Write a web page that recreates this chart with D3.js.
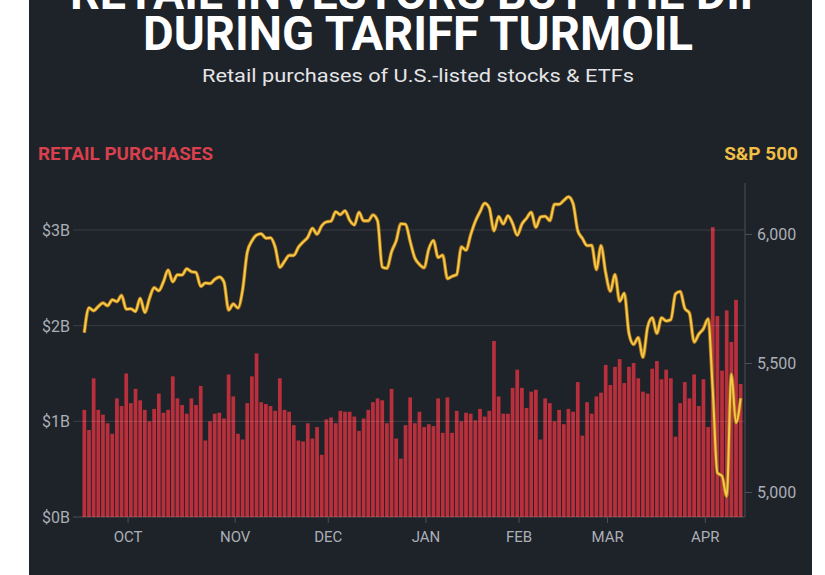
<!DOCTYPE html>
<html lang="en">
<head>
  <meta charset="utf-8">
  <title>Retail investors buy the dip during tariff turmoil</title>
  <script src="https://cdnjs.cloudflare.com/ajax/libs/d3/7.8.5/d3.min.js"></script>
  <style type="text/css">
  body {
    margin: 0;
    background: #fff;
  }
  #chart {
    display: block;
  }
  .axis text {
    font-family: 'Roboto';
    fill: #abafb6;
  }
  </style>
</head>
<body>
  <svg id="chart"></svg>
  <script type="text/javascript">
  // trading days, 18 Sep 2024 - 11 Apr 2025
  var days = [
    "2024-09-18","2024-09-19","2024-09-20","2024-09-23","2024-09-24","2024-09-25","2024-09-26","2024-09-27","2024-09-30",
    "2024-10-01","2024-10-02","2024-10-03","2024-10-04","2024-10-07","2024-10-08","2024-10-09","2024-10-10","2024-10-11",
    "2024-10-14","2024-10-15","2024-10-16","2024-10-17","2024-10-18","2024-10-21","2024-10-22","2024-10-23","2024-10-24",
    "2024-10-25","2024-10-28","2024-10-29","2024-10-30","2024-10-31",
    "2024-11-01","2024-11-04","2024-11-05","2024-11-06","2024-11-07","2024-11-08","2024-11-11","2024-11-12","2024-11-13",
    "2024-11-14","2024-11-15","2024-11-18","2024-11-19","2024-11-20","2024-11-21","2024-11-22","2024-11-25","2024-11-26",
    "2024-11-27","2024-11-29",
    "2024-12-02","2024-12-03","2024-12-04","2024-12-05","2024-12-06","2024-12-09","2024-12-10","2024-12-11","2024-12-12",
    "2024-12-13","2024-12-16","2024-12-17","2024-12-18","2024-12-19","2024-12-20","2024-12-23","2024-12-24","2024-12-26",
    "2024-12-27","2024-12-30","2024-12-31",
    "2025-01-02","2025-01-03","2025-01-06","2025-01-07","2025-01-08","2025-01-10","2025-01-13","2025-01-14","2025-01-15",
    "2025-01-16","2025-01-17","2025-01-21","2025-01-22","2025-01-23","2025-01-24","2025-01-27","2025-01-28","2025-01-29",
    "2025-01-30","2025-01-31",
    "2025-02-03","2025-02-04","2025-02-05","2025-02-06","2025-02-07","2025-02-10","2025-02-11","2025-02-12","2025-02-13",
    "2025-02-14","2025-02-18","2025-02-19","2025-02-20","2025-02-21","2025-02-24","2025-02-25","2025-02-26","2025-02-27",
    "2025-02-28",
    "2025-03-03","2025-03-04","2025-03-05","2025-03-06","2025-03-07","2025-03-10","2025-03-11","2025-03-12","2025-03-13",
    "2025-03-14","2025-03-17","2025-03-18","2025-03-19","2025-03-20","2025-03-21","2025-03-24","2025-03-25","2025-03-26",
    "2025-03-27","2025-03-28","2025-03-31",
    "2025-04-01","2025-04-02","2025-04-03","2025-04-04","2025-04-07","2025-04-08","2025-04-09","2025-04-10","2025-04-11"
  ];

  // retail purchases, $ billions
  var purchases = [
    1.12, 0.91, 1.45, 1.12, 1.07, 0.98, 0.87, 1.24, 1.16,
    1.50, 1.19, 1.34, 1.22, 1.12, 1.00, 1.13, 1.29, 1.09, 1.12, 1.47, 1.24, 1.17, 1.08, 1.24, 1.17, 1.37, 0.80,
    1.00, 1.08, 1.09, 1.03, 1.49,
    1.26, 0.87, 0.81, 1.19, 1.47, 1.71, 1.20, 1.18, 1.16, 1.11, 1.45, 1.12, 1.10, 0.96, 0.80, 0.79, 0.98, 0.82,
    0.94, 0.65,
    1.02, 1.04, 0.98, 1.11, 1.10, 1.10, 1.05, 0.90, 1.03, 1.12, 1.20, 1.24, 1.22, 0.98, 1.34, 0.82, 0.61, 0.96,
    1.25, 0.98, 1.10,
    0.94, 0.97, 0.95, 1.24, 0.88, 1.25, 0.88, 1.11, 1.00, 1.09, 1.08, 1.01, 1.13, 1.05, 1.11, 1.84, 1.26, 1.08,
    1.08, 1.35,
    1.54, 1.35, 1.14, 1.31, 1.33, 0.81, 1.24, 1.19, 1.00, 1.12, 0.97, 1.13, 1.10, 1.41, 0.85, 1.20, 1.08, 1.26,
    1.30,
    1.59, 1.38, 1.57, 1.65, 1.40, 1.57, 1.61, 1.45, 1.31, 1.29, 1.55, 1.63, 1.44, 1.54, 1.45, 0.84, 1.19, 1.41,
    1.24, 1.49, 1.16,
    1.44, 0.94, 3.03, 2.10, 1.53, 2.16, 1.83, 2.27, 1.39
  ];

  // S&P 500 close
  var sp500 = [
    5618, 5714, 5703, 5719, 5733, 5722, 5745, 5738, 5762,
    5709, 5710, 5700, 5751, 5696, 5751, 5792, 5780, 5815, 5860, 5815, 5842, 5841, 5865, 5854, 5851, 5797, 5810,
    5808, 5824, 5833, 5814, 5705,
    5729, 5713, 5783, 5929, 5973, 5996, 6001, 5984, 5985, 5949, 5871, 5894, 5917, 5917, 5949, 5969, 5987, 6022,
    5999, 6032,
    6047, 6050, 6086, 6075, 6090, 6053, 6035, 6084, 6051, 6051, 6074, 6051, 5872, 5867, 5931, 5974, 6040, 6038,
    5971, 5907, 5882,
    5869, 5942, 5975, 5909, 5918, 5827, 5836, 5843, 5950, 5937, 5997, 6049, 6086, 6119, 6101, 6012, 6068, 6039,
    6071, 6041,
    5995, 6038, 6061, 6084, 6026, 6066, 6069, 6052, 6115, 6115, 6130, 6144, 6118, 6013, 5983, 5955, 5956, 5862,
    5955,
    5850, 5778, 5843, 5739, 5770, 5615, 5572, 5599, 5522, 5639, 5675, 5615, 5675, 5663, 5668, 5768, 5777, 5712,
    5693, 5581, 5612,
    5633, 5671, 5397, 5074, 5062, 4983, 5457, 5268, 5363
  ];

  var leftTicks = [0, 1, 2, 3];
  var rightTicks = [5000, 5500, 6000];
  var monthStarts = ["2024-10-01", "2024-11-01", "2024-12-02", "2025-01-02", "2025-02-03", "2025-03-03", "2025-04-01"];
  var monthNames = ["OCT", "NOV", "DEC", "JAN", "FEB", "MAR", "APR"];

  var w = 825;
  var h = 575;
  var plotLeft = 82, plotRight = 743, baseY = 517;

  var svg = d3.select("#chart")
    .attr("width", w)
    .attr("height", h);

  // dark panel
  svg.append("rect")
    .attr("x", 29)
    .attr("y", 0)
    .attr("width", 783)
    .attr("height", h)
    .attr("fill", "#1e2229");

  var x = d3.scaleBand()
    .domain(days)
    .range([plotLeft, plotRight])
    .paddingInner(0.2)
    .paddingOuter(0.1);

  var yL = d3.scaleLinear().domain([0, 3]).range([baseY, 230]);
  var yR = d3.scaleLinear().domain([5000, 6000]).range([492, 234]);

  // titles
  svg.append("text")
    .attr("x", 420)
    .attr("y", 9)
    .attr("text-anchor", "middle")
    .attr("textLength", 700)
    .attr("lengthAdjust", "spacingAndGlyphs")
    .style("font-family", "Roboto")
    .style("font-weight", "bold")
    .style("font-size", "48px")
    .style("fill", "#fff")
    .text("RETAIL INVESTORS BUY THE DIP");

  svg.append("text")
    .attr("x", 418)
    .attr("y", 50)
    .attr("text-anchor", "middle")
    .attr("textLength", 550)
    .attr("lengthAdjust", "spacingAndGlyphs")
    .style("font-family", "Roboto")
    .style("font-weight", "bold")
    .style("font-size", "48px")
    .style("fill", "#fff")
    .text("DURING TARIFF TURMOIL");

  svg.append("text")
    .attr("x", 418)
    .attr("y", 82)
    .attr("text-anchor", "middle")
    .attr("textLength", 432)
    .attr("lengthAdjust", "spacingAndGlyphs")
    .style("font-family", "Roboto")
    .style("font-size", "18px")
    .style("fill", "#e4e5e7")
    .text("Retail purchases of U.S.-listed stocks & ETFs");

  // series labels
  svg.append("text")
    .attr("x", 38)
    .attr("y", 160)
    .attr("textLength", 175)
    .attr("lengthAdjust", "spacingAndGlyphs")
    .style("font-family", "Roboto")
    .style("font-weight", "bold")
    .style("font-size", "19px")
    .style("fill", "#d8404d")
    .text("RETAIL PURCHASES");

  svg.append("text")
    .attr("x", 798)
    .attr("y", 160)
    .attr("text-anchor", "end")
    .style("font-family", "Roboto")
    .style("font-weight", "bold")
    .style("font-size", "19px")
    .style("fill", "#f1bf45")
    .text("S&P 500");

  // bars
  svg.append("g")
    .selectAll("rect")
    .data(days)
    .enter()
    .append("rect")
    .attr("x", function(d) { return x(d); })
    .attr("width", x.bandwidth())
    .attr("y", function(d, i) { return yL(purchases[i]); })
    .attr("height", function(d, i) { return baseY - yL(purchases[i]); })
    .attr("fill", "#b9303c");

  // gridlines over the bars
  svg.append("g")
    .selectAll("line")
    .data(leftTicks)
    .enter()
    .append("line")
    .attr("x1", 73)
    .attr("x2", 745)
    .attr("y1", function(d) { return yL(d); })
    .attr("y2", function(d) { return yL(d); })
    .style("stroke", "#ffffff")
    .style("stroke-opacity", function(d) { return d === 0 ? 0.2 : 0.13; })
    .style("stroke-width", 1);

  // left axis
  var leftAxis = svg.append("g")
    .attr("class", "axis")
    .attr("transform", "translate(71,0)")
    .call(d3.axisLeft(yL).tickValues(leftTicks)
      .tickFormat(function(d) { return "$" + d + "B"; })
      .tickSize(0).tickPadding(1));
  leftAxis.select(".domain").remove();
  leftAxis.selectAll("text").style("font-size", "16px").attr("dy", "0.34em");

  // right axis
  svg.append("line")
    .attr("x1", 745).attr("x2", 745)
    .attr("y1", 183).attr("y2", baseY)
    .style("stroke", "#4b5058")
    .style("stroke-width", 1);

  var rightAxis = svg.append("g")
    .attr("class", "axis")
    .attr("transform", "translate(745,0)")
    .call(d3.axisRight(yR).tickValues(rightTicks)
      .tickFormat(d3.format(","))
      .tickSize(7).tickPadding(5));
  rightAxis.select(".domain").remove();
  rightAxis.selectAll("line").style("stroke", "#4b5058");
  rightAxis.selectAll("text").style("font-size", "16px");

  // bottom axis
  var bottomAxis = svg.append("g")
    .attr("class", "axis")
    .attr("transform", "translate(" + (x.bandwidth() / 2) + "," + baseY + ")")
    .call(d3.axisBottom(x).tickValues(monthStarts)
      .tickFormat(function(d) { return monthNames[monthStarts.indexOf(d)]; })
      .tickSize(6).tickPadding(8));
  bottomAxis.select(".domain").remove();
  bottomAxis.selectAll("line").style("stroke", "#4b5058");
  bottomAxis.selectAll("text").style("font-size", "15px");

  // S&P line
  var line = d3.line()
    .x(function(d, i) { return x(days[i]) + x.bandwidth() / 2; })
    .y(function(d) { return yR(d); })
    .curve(d3.curveMonotoneX);

  svg.append("path")
    .datum(sp500)
    .attr("d", line)
    .style("fill", "none")
    .style("stroke", "#a8741c")
    .style("stroke-width", 3.6)
    .style("stroke-linejoin", "round");

  svg.append("path")
    .datum(sp500)
    .attr("d", line)
    .style("fill", "none")
    .style("stroke", "#f7c948")
    .style("stroke-width", 2)
    .style("stroke-linejoin", "round");
  </script>
</body>
</html>
